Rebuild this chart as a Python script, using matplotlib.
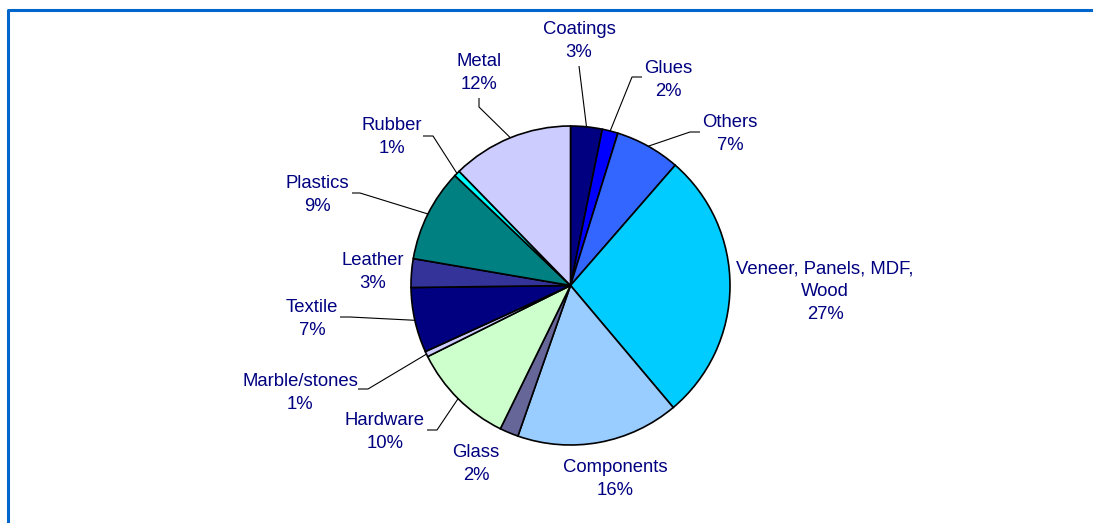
import numpy as np
import matplotlib
matplotlib.use("Agg")
import matplotlib.pyplot as plt
from matplotlib.lines import Line2D

# Share of purchased materials (percent)
categories = ["Coatings", "Glues", "Others", "Veneer, Panels, MDF,\nWood", "Components",
              "Glass", "Hardware", "Marble/stones", "Textile", "Leather", "Plastics",
              "Rubber", "Metal"]
values = [3.2, 1.6, 6.6, 27.46, 16.49, 1.9, 10.4, 0.55, 6.6, 2.9, 9.4, 0.6, 12.3]
colors = ["#000080", "#0000FF", "#3366FF", "#00CCFF", "#99CCFF", "#666699", "#CCFFCC",
          "#CCCCFF", "#000080", "#333399", "#008080", "#00FFFF", "#CCCCFF"]

W, H = 1093, 523
CX, CY, R = 570.5, 285.5, 159.5      # pie centre / radius in pixels (y measured from top)

# Label block centres (pixels, y from top) and optional leader geometry:
# (text_x, text_y, leader_end, leader_elbow)
label_layout = [
    (579, 41, (579, 66), (579, 66)),
    (668, 80, (642, 77), (632, 77)),
    (730, 134, (700, 132), (690, 132)),
    (825, 292, None, None),
    (615, 479, None, None),
    (476, 464, None, None),
    (385, 432, (427, 430), (437, 430)),
    (300, 393, (358, 389), (368, 389)),
    (312, 319, (340, 317), (350, 317)),
    (373, 272, None, None),
    (317, 195, (352, 193), (360, 193)),
    (392, 137, (423, 136), (433, 136)),
    (479, 73, (479, 98), (479, 107)),
]

plt.rcParams["font.family"] = ["Liberation Sans", "DejaVu Sans"]

fig = plt.figure(figsize=(W / 100, H / 100), dpi=100)
ax = fig.add_axes([0, 0, 1, 1])

ax.pie(values, colors=colors, startangle=90, counterclock=False,
       center=(CX, H - CY), radius=R,
       wedgeprops=dict(edgecolor="black", linewidth=1.2))
ax.set_xlim(0, W)
ax.set_ylim(0, H)
ax.set_aspect("equal")
ax.axis("off")

total = sum(values)
cum = np.cumsum([0] + values[:-1])
for i, (name, v) in enumerate(zip(categories, values)):
    pct = 100 * v / total
    tx, ty, end, elbow = label_layout[i]
    ax.text(tx, H - ty, f"{name}\n{int(pct + 0.5)}%", ha="center", va="center",
            fontsize=13.3, color="#000080", linespacing=1.45)
    if end is not None:
        mid = np.deg2rad(360 * (cum[i] + v / 2) / total)
        ex = CX + R * np.sin(mid)
        ey = CY - R * np.cos(mid)
        xs = [end[0], elbow[0], ex]
        ys = [H - end[1], H - elbow[1], H - ey]
        ax.plot(xs, ys, color="black", linewidth=0.8, solid_capstyle="butt")

# blue frame along the top and left edge
fig.add_artist(Line2D([8 / W, 8 / W, 1.0], [0.0, 1 - 10 / H, 1 - 10 / H],
                      transform=fig.transFigure, color="#0066CC", linewidth=2.2))

fig.savefig("out.png", dpi=100)
